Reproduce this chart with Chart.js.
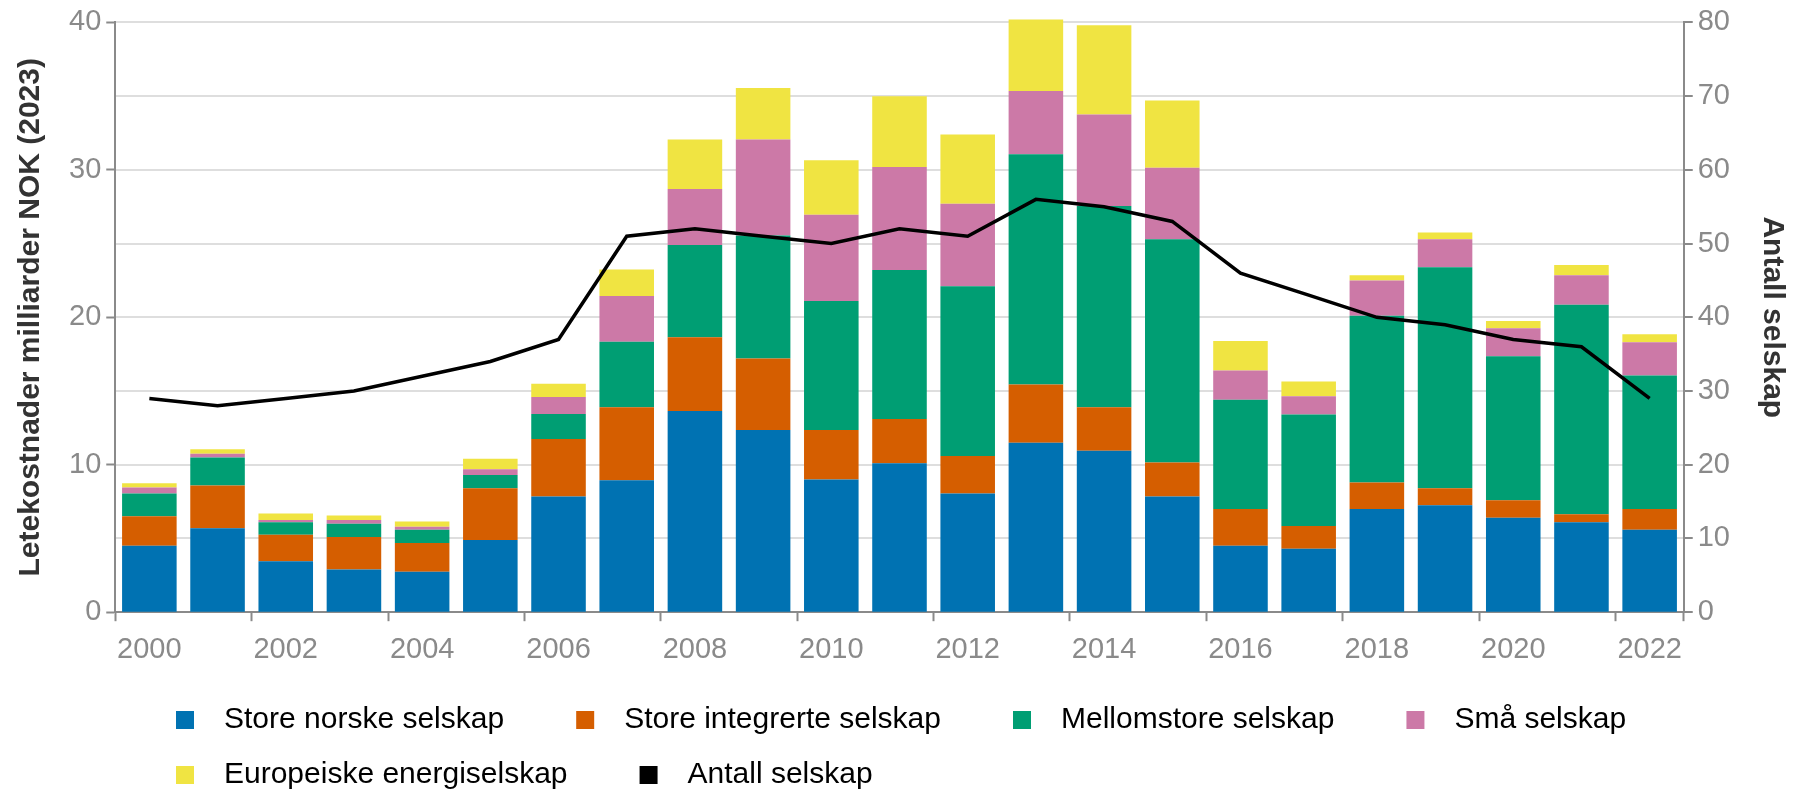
<!DOCTYPE html>
<html>
<head>
<meta charset="utf-8">
<script src="https://cdn.jsdelivr.net/npm/chart.js@4.4.1/dist/chart.umd.min.js"></script>
<style>
  html, body { margin: 0; padding: 0; background: #fff; overflow: hidden; }
  #wrap { width: 1793px; height: 790px; position: relative; }
</style>
</head>
<body>
<div id="wrap"><canvas id="letekostnader"></canvas></div>
<script>
// data
const years = ['2000','2001','2002','2003','2004','2005','2006','2007','2008','2009','2010','2011',
               '2012','2013','2014','2015','2016','2017','2018','2019','2020','2021','2022'];
const storeNorske = [4.5, 5.7, 3.45, 2.9, 2.75, 4.9, 7.85, 8.95, 13.65, 12.35, 9.0, 10.1, 8.05, 11.5, 10.95, 7.85, 4.5, 4.3, 7.0, 7.25, 6.4, 6.1, 5.6];
const storeIntegrerte = [2.0, 2.9, 1.8, 2.2, 1.95, 3.5, 3.9, 4.95, 5.0, 4.85, 3.35, 3.0, 2.55, 3.95, 2.95, 2.3, 2.5, 1.55, 1.8, 1.15, 1.2, 0.55, 1.4];
const mellomstore = [1.55, 1.9, 0.85, 0.9, 0.9, 0.9, 1.7, 4.45, 6.25, 8.35, 8.75, 10.1, 11.5, 15.6, 13.65, 15.15, 7.4, 7.55, 11.3, 15.0, 9.75, 14.2, 9.05];
const smaa = [0.4, 0.25, 0.15, 0.25, 0.2, 0.4, 1.15, 3.1, 3.8, 6.5, 5.85, 7.0, 5.6, 4.3, 6.2, 4.85, 2.0, 1.25, 2.4, 1.9, 1.9, 2.0, 2.25];
const europeiske = [0.3, 0.3, 0.45, 0.3, 0.35, 0.7, 0.9, 1.8, 3.35, 3.5, 3.7, 4.8, 4.7, 4.85, 6.05, 4.55, 2.0, 1.0, 0.35, 0.45, 0.5, 0.7, 0.55];
const antallSelskap = [29, 28, 29, 30, 32, 34, 37, 51, 52, 51, 50, 52, 51, 56, 55, 53, 46, 43, 40, 39, 37, 36, 29];

const venstreTicks = [0, 10, 20, 30, 40];
const hoyreTicks = [0, 10, 20, 30, 40, 50, 60, 70, 80];

const farger = {
  blaa: '#0072B2', oransje: '#D55E00', gronn: '#009E73', rosa: '#CC79A7', gul: '#F0E442', svart: '#000000'
};

const FONT = "'Liberation Sans', Arial, sans-serif";
const GRAA = '#8a8a8a';

// legend swatch: a small square with some room before it
function rute(farge) {
  const c = document.createElement('canvas');
  c.width = 80; c.height = 18;
  const g = c.getContext('2d');
  g.fillStyle = farge;
  g.fillRect(47, 0, 18, 18);
  return c;
}

const flyttLegend = {
  id: 'flyttLegend',
  afterLayout(chart) { chart.legend.left = 104; }
};

const stolpe = (navn, data, farge) => ({
  type: 'bar', label: navn, data: data, backgroundColor: farge,
  yAxisID: 'y', order: 1, categoryPercentage: 1.0, barPercentage: 0.8, clip: false
});

const ctx = document.getElementById('letekostnader').getContext('2d');
const graf = new Chart(ctx, {
  data: {
    labels: years,
    datasets: [
      stolpe('Store norske selskap', storeNorske, farger.blaa),
      stolpe('Store integrerte selskap', storeIntegrerte, farger.oransje),
      stolpe('Mellomstore selskap', mellomstore, farger.gronn),
      stolpe('Små selskap', smaa, farger.rosa),
      stolpe('Europeiske energiselskap', europeiske, farger.gul),
      {
        type: 'line', label: 'Antall selskap', data: antallSelskap,
        borderColor: farger.svart, backgroundColor: farger.svart, borderWidth: 3.5,
        pointRadius: 0, tension: 0, yAxisID: 'y1', order: 0
      }
    ]
  },
  options: {
    responsive: true,
    maintainAspectRatio: false,
    animation: false,
    layout: { padding: { top: 19, left: 0, right: 0, bottom: 0 } },
    plugins: {
      tooltip: { enabled: false },
      legend: {
        position: 'bottom',
        align: 'start',
        maxHeight: 110,
        labels: {
          usePointStyle: true,
          pointStyleWidth: 80,
          boxHeight: 18,
          padding: 25,
          color: '#222',
          font: { family: FONT, size: 30 },
          generateLabels(chart) {
            return chart.data.datasets.map((ds, i) => ({
              text: ds.label,
              fillStyle: ds.backgroundColor,
              strokeStyle: ds.backgroundColor,
              lineWidth: 0,
              pointStyle: rute(ds.type === 'line' ? ds.borderColor : ds.backgroundColor),
              hidden: false,
              datasetIndex: i
            }));
          }
        }
      }
    },
    scales: {
      x: {
        stacked: true,
        offset: true,
        border: { color: GRAA, width: 2 },
        grid: {
          offset: true,
          drawOnChartArea: false,
          tickLength: 9,
          tickWidth: 2,
          color: c => (c.type !== 'tick' || c.index % 2 === 0) ? GRAA : 'rgba(0,0,0,0)',
          tickColor: c => (c.type !== 'tick' || c.index % 2 === 0) ? GRAA : 'rgba(0,0,0,0)'
        },
        ticks: {
          autoSkip: false, maxRotation: 0, padding: 11,
          color: GRAA, font: { family: FONT, size: 29 },
          callback: function (v, i) { return i % 2 === 0 ? this.getLabelForValue(v) : ''; }
        },
        afterFit: s => { s.height += 2; }
      },
      y: {
        stacked: true,
        position: 'left',
        min: 0, max: 40,
        afterBuildTicks: s => { s.ticks = venstreTicks.map(v => ({ value: v })); },
        border: { color: GRAA, width: 2 },
        grid: { drawOnChartArea: false, tickLength: 9, tickWidth: 2, tickColor: GRAA, color: GRAA },
        ticks: { color: GRAA, padding: 5, font: { family: FONT, size: 29 } },
        title: {
          display: true,
          text: 'Letekostnader milliarder NOK (2023)',
          color: '#333',
          font: { family: FONT, size: 30, weight: 'bold' },
          padding: { top: 13, bottom: 15 }
        }
      },
      y1: {
        position: 'right',
        min: 0, max: 80,
        afterBuildTicks: s => { s.ticks = hoyreTicks.map(v => ({ value: v })); },
        border: { color: GRAA, width: 2 },
        grid: { drawOnChartArea: true, color: '#dedede', lineWidth: 2, tickLength: 9, tickWidth: 2, tickColor: GRAA },
        ticks: { color: GRAA, padding: 5, font: { family: FONT, size: 29 } },
        title: {
          display: true,
          text: 'Antall selskap',
          color: '#333',
          font: { family: FONT, size: 30, weight: 'bold' },
          padding: { top: 3, bottom: 19 }
        }
      }
    }
  },
  plugins: [flyttLegend]
});
</script>
</body>
</html>
